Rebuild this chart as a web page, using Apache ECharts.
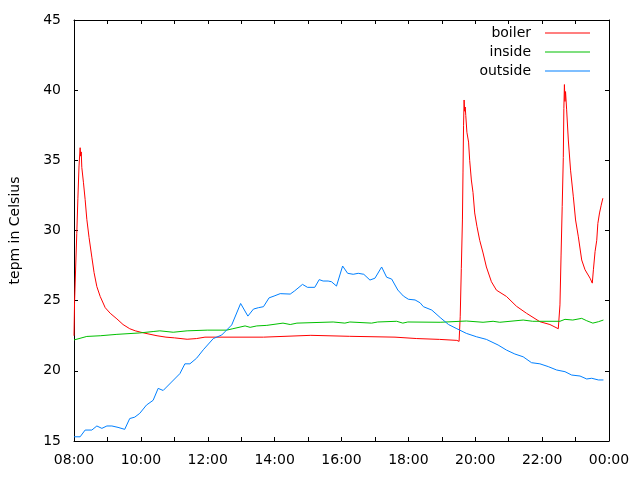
<!DOCTYPE html>
<html>
<head>
<meta charset="utf-8">
<script src="https://cdn.jsdelivr.net/npm/echarts@6/dist/echarts.min.js"></script>
<style>
html,body{margin:0;padding:0;background:#fff;}
#chart{width:640px;height:480px;}
</style>
</head>
<body>
<div id="chart"></div>
<script>
// ---- data ----
const seriesNames = ['boiler', 'inside', 'outside'];
const yTitle = 'tepm in Celsius';

const boilerTimes = ["08:00","08:01","08:03","08:05","08:07","08:09","08:11","08:12","08:13","08:14","08:17","08:20","08:23","08:27","08:32","08:36","08:41","08:47","08:56","09:05","09:17","09:28","09:40","09:50","10:00","10:11","10:29","10:45","11:00","11:23","11:40","11:55","13:40","13:41","15:05","15:06","16:14","16:15","17:36","17:37","18:15","18:16","18:56","18:57","19:27","19:28","19:31","19:33","19:35","19:37","19:38","19:39","19:40","19:41","19:42","19:43","19:45","19:48","19:50","19:53","19:56","19:59","20:03","20:08","20:14","20:20","20:29","20:38","20:56","21:14","21:32","21:56","22:14","22:29","22:31","22:32","22:34","22:36","22:38","22:39","22:40","22:41","22:42","22:44","22:47","22:51","22:56","23:00","23:05","23:11","23:17","23:26","23:30","23:32","23:35","23:38","23:40","23:43","23:46","23:49"];
const boilerTemps = [22.5,24.9,27.4,29.8,32.3,34.6,35.9,35.3,35.6,34.5,33.4,32.2,30.8,29.5,28.1,27.0,26.0,25.3,24.5,24.1,23.7,23.3,23.0,22.85,22.75,22.65,22.5,22.4,22.35,22.25,22.3,22.4,22.4,22.53,22.53,22.46,22.46,22.4,22.4,22.3,22.3,22.24,22.24,22.17,22.17,22.1,22.1,23.85,27.3,30.75,34.1,37.5,39.3,38.5,38.8,38.2,37.0,36.3,35.0,33.6,32.7,31.25,30.3,29.3,28.4,27.4,26.35,25.75,25.3,24.6,24.1,23.5,23.3,23.0,22.95,24.7,28.25,31.7,35.2,38.7,40.4,39.2,39.9,38.6,36.45,34.3,32.4,30.75,29.55,27.9,27.2,26.6,26.25,27.2,28.5,29.3,30.5,31.25,31.8,32.3];

const insideTimes = ["08:00","08:02","08:23","08:47","09:17","09:58","10:22","10:34","10:58","11:23","11:59","12:34","12:45","13:07","13:16","13:28","13:46","14:15","14:28","14:40","15:45","16:06","16:15","16:54","17:05","17:39","17:50","17:59","18:57","19:44","20:14","20:32","20:44","21:26","21:43","22:32","22:41","22:55","23:11","23:20","23:31","23:41","23:50"];
const insideTemps = [22.2,22.2,22.45,22.5,22.6,22.7,22.8,22.85,22.75,22.85,22.9,22.9,23.0,23.2,23.1,23.2,23.24,23.4,23.3,23.4,23.48,23.4,23.48,23.4,23.48,23.53,23.4,23.48,23.46,23.55,23.46,23.53,23.46,23.62,23.53,23.53,23.67,23.62,23.74,23.57,23.4,23.5,23.62];

const outsideTimes = ["08:00","08:11","08:20","08:32","08:41","08:50","08:59","09:08","09:19","09:31","09:40","09:49","09:58","10:10","10:22","10:31","10:40","10:55","11:10","11:19","11:28","11:40","11:52","12:10","12:25","12:43","12:59","13:12","13:22","13:31","13:40","13:50","13:59","14:10","14:28","14:36","14:50","14:59","15:12","15:20","15:27","15:36","15:42","15:51","16:02","16:11","16:21","16:30","16:40","16:51","17:00","17:12","17:21","17:30","17:41","17:51","18:00","18:12","18:21","18:27","18:42","18:57","19:12","19:27","19:44","20:02","20:20","20:41","20:56","21:11","21:26","21:41","21:56","22:11","22:26","22:41","22:53","23:08","23:20","23:29","23:41","23:50"];
const outsideTemps = [15.3,15.3,15.78,15.78,16.07,15.9,16.07,16.07,15.97,15.83,16.6,16.7,16.97,17.56,17.9,18.75,18.6,19.2,19.8,20.5,20.5,20.9,21.5,22.3,22.55,23.27,24.8,23.9,24.4,24.5,24.57,25.2,25.33,25.5,25.47,25.7,26.16,25.95,25.95,26.5,26.4,26.4,26.35,26.04,27.47,26.95,26.88,26.95,26.88,26.47,26.6,27.4,26.67,26.54,25.76,25.33,25.1,25.05,24.85,24.57,24.33,23.8,23.3,23.0,22.67,22.43,22.24,21.84,21.48,21.2,21.0,20.58,20.5,20.3,20.06,19.94,19.7,19.63,19.42,19.47,19.35,19.35];

// axis ranges
const xMin = 8, xMax = 24, xStep = 2;
const yMin = 15, yMax = 45, yStep = 5;

// ---- build ----
function toHours(t) {
  const p = t.split(':');
  return Number(p[0]) + Number(p[1]) / 60;
}
function pairs(times, vals) {
  return times.map((t, i) => [toHours(t), vals[i]]);
}
function fmtHour(v) {
  const h = Math.round(v) % 24;
  return (h < 10 ? '0' : '') + h + ':00';
}

const FONT = 'DejaVu Sans';
const black = '#000';
const colors = ['#ff0000', '#00c000', '#0080ff'];

const tickCommon = {
  axisLine: { show: true, onZero: false, lineStyle: { color: black, width: 1 } },
  axisTick: { show: true, inside: true, length: 4, lineStyle: { color: black, width: 1 } },
  splitLine: { show: false }
};

const chart = echarts.init(document.getElementById('chart'), null, { renderer: 'canvas' });
chart.setOption({
  animation: false,
  backgroundColor: '#fff',
  textStyle: { fontFamily: FONT },
  grid: { left: 74, right: 31, top: 20, bottom: 39, containLabel: false },
  legend: {
    orient: 'vertical',
    right: 50,
    top: 23.5,
    padding: 0,
    align: 'right',
    icon: 'rect',
    itemWidth: 45,
    itemHeight: 1,
    itemGap: 0,
    selectedMode: false,
    textStyle: { fontFamily: FONT, fontSize: 14, color: black, lineHeight: 19, padding: [0, 9, 0, 0] },
    data: seriesNames
  },
  xAxis: [
    Object.assign({
      type: 'value', position: 'bottom', min: xMin, max: xMax, interval: xStep,
      minorTick: { show: true, splitNumber: 2, length: 4, lineStyle: { color: black, width: 1 } },
      minorSplitLine: { show: false },
      axisLabel: { formatter: fmtHour, fontFamily: FONT, fontSize: 14, color: black, margin: 12 }
    }, tickCommon),
    Object.assign({
      type: 'value', position: 'top', min: xMin, max: xMax, interval: xStep,
      minorTick: { show: true, splitNumber: 2, length: 4, lineStyle: { color: black, width: 1 } },
      minorSplitLine: { show: false },
      axisLabel: { show: false }
    }, tickCommon)
  ],
  yAxis: [
    Object.assign({
      type: 'value', position: 'left', min: yMin, max: yMax, interval: yStep,
      name: yTitle, nameLocation: 'middle', nameRotate: 90, nameGap: 52,
      nameTextStyle: { fontFamily: FONT, fontSize: 14, color: black },
      axisLabel: { fontFamily: FONT, fontSize: 14, color: black, margin: 13 }
    }, tickCommon),
    Object.assign({
      type: 'value', position: 'right', min: yMin, max: yMax, interval: yStep,
      axisLabel: { show: false }
    }, tickCommon)
  ],
  series: [
    { name: seriesNames[0], type: 'line', data: pairs(boilerTimes, boilerTemps) },
    { name: seriesNames[1], type: 'line', data: pairs(insideTimes, insideTemps) },
    { name: seriesNames[2], type: 'line', data: pairs(outsideTimes, outsideTemps) }
  ].map((s, i) => Object.assign(s, {
    xAxisIndex: 0, yAxisIndex: 0,
    showSymbol: false, symbol: 'none',
    color: colors[i],
    itemStyle: { color: colors[i] },
    lineStyle: { color: colors[i], width: 1 },
    emphasis: { disabled: true }
  }))
});
</script>
</body>
</html>
